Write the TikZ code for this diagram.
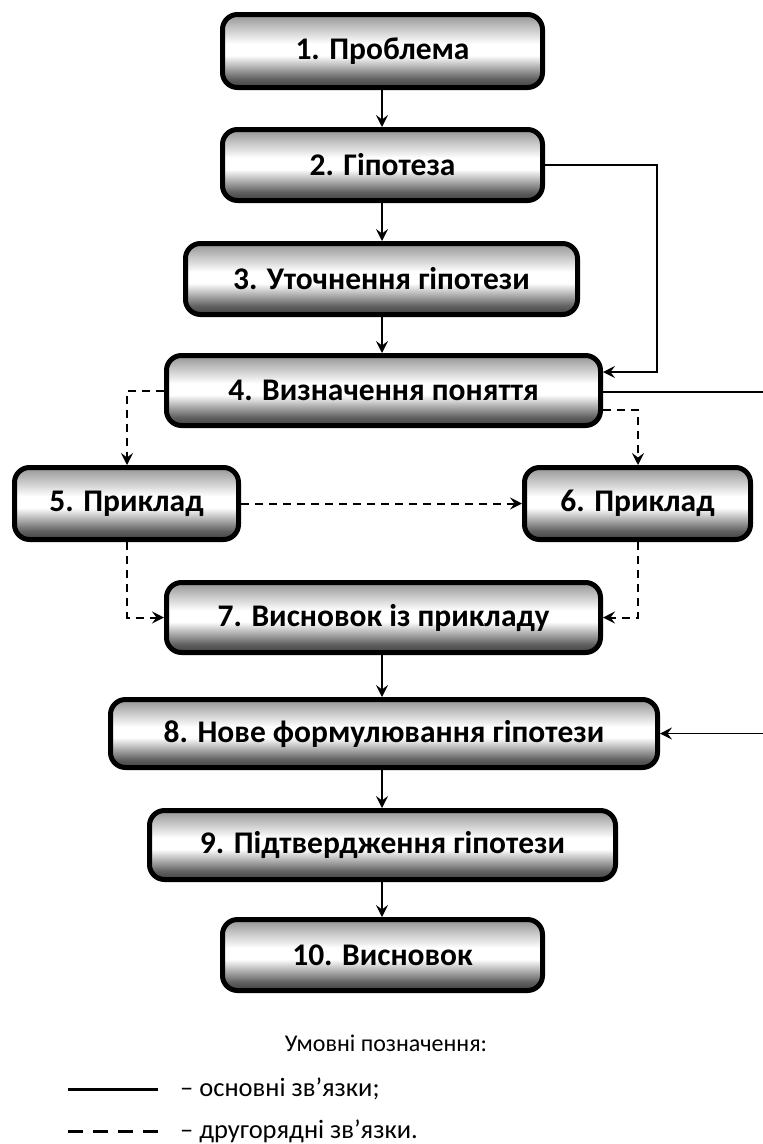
\documentclass[tikz,border=0pt]{standalone}
\usepackage{fontspec}
\setmainfont{Carlito}
\usetikzlibrary{arrows.meta}
% gray-white-gray bar shading for the step boxes (path spans 25bp..75bp)
\pgfdeclareverticalshading{stepshade}{100bp}{color(0bp)=(black!75); color(25bp)=(black!75); color(31bp)=(black!62); color(47bp)=(white); color(55bp)=(white); color(75bp)=(black!42); color(100bp)=(black!42)}
\tikzset{
  stepbox/.style={draw=black, line width=5pt, rounded corners=15pt, shading=stepshade,
    inner sep=0pt, font=\fontsize{31.5}{38}\selectfont\bfseries, text=black},
  tip/.style={-{Stealth[length=12pt,width=12pt,inset=4.5pt]}},
  main/.style={tip, line width=2.2pt},
  thin main/.style={line width=1.6pt},
  minor/.style={tip, line width=2pt, dash pattern=on 8pt off 6pt},
  legend/.style={font=\fontsize{26.5}{31}\selectfont, inner sep=0pt},
}
\begin{document}
\begin{tikzpicture}[x=1pt,y=-1pt]
\useasboundingbox (0,0) rectangle (763,1144);
% steps
\node[stepbox, minimum width=320pt, minimum height=73pt] (s1) at (382.5,51) {1. Проблема};
\node[stepbox, minimum width=320pt, minimum height=71pt] (s2) at (382.5,165) {2. Гіпотеза};
\node[stepbox, minimum width=392pt, minimum height=71pt] (s3) at (381.5,279) {3. Уточнення гіпотези};
\node[stepbox, minimum width=434pt, minimum height=70pt] (s4) at (383.5,390.5) {4. Визначення поняття};
\node[stepbox, minimum width=224pt, minimum height=72pt] (s5) at (126.5,503.5) {5. Приклад};
\node[stepbox, minimum width=226pt, minimum height=72pt] (s6) at (637.5,503.5) {6. Приклад};
\node[stepbox, minimum width=434pt, minimum height=70pt] (s7) at (383.5,617.5) {7. Висновок із прикладу};
\node[stepbox, minimum width=547pt, minimum height=68pt] (s8) at (384,733.5) {8. Нове формулювання гіпотези};
\node[stepbox, minimum width=466pt, minimum height=69pt] (s9) at (382.5,845) {9. Підтвердження гіпотези};
\node[stepbox, minimum width=320pt, minimum height=71pt] (s10) at (382.5,955) {10. Висновок};
% main sequence (straight down at x = 382)
\coordinate (ax) at (382,0);
\draw[main] (s1.south -| ax) -- (s2.north -| ax);
\draw[main] (s2.south -| ax) -- (s3.north -| ax);
\draw[main] (s3.south -| ax) -- (s4.north -| ax);
\draw[main] (s7.south -| ax) -- (s8.north -| ax);
\draw[main] (s8.south -| ax) -- (s9.north -| ax);
\draw[main] (s9.south -| ax) -- (s10.north -| ax);
% bypass from hypothesis to definition
\coordinate (b2) at (657,165);
\coordinate (b4) at (657,372);
\draw[thin main, tip] (s2.east) -- (b2) -- (b4) -- (s4.east |- b4);
% link leaving and re-entering at the right margin
\coordinate (r4) at (763,392);
\coordinate (r8) at (763,733.5);
\draw[thin main] (s4.east |- r4) -- (r4);
\draw[thin main, tip] (r8) -- (s8.east);
% secondary links
\coordinate (l4) at (127,390.5);
\coordinate (q4) at (638,410);
\coordinate (l7) at (127,617.5);
\coordinate (q7) at (638,617.5);
\draw[minor] (s4.west) -- (l4) -- (s5.north -| l4);
\draw[minor] (s4.east |- q4) -- (q4) -- (s6.north -| q4);
\draw[minor] (s5.east) -- (s6.west);
\draw[minor] (s5.south -| l7) -- (l7) -- (s7.west);
\draw[minor] (s6.south -| q7) -- (q7) -- (s7.east);
% legend
\node[legend, font=\fontsize{24}{29}\selectfont, anchor=base] (lt) at (386,1051) {Умовні позначення:};
\coordinate (la) at (68,1089);
\coordinate (lb) at (158,1089);
\coordinate (lc) at (68,1131);
\coordinate (ld) at (163,1131);
\draw[line width=3pt] (la) -- (lb);
\draw[line width=3pt, dash pattern=on 15pt off 10pt] (lc) -- (ld);
\node[legend, anchor=base west] (l1) at (180,1096) {– основні зв’язки;};
\node[legend, anchor=base west] (l2) at (180,1138) {– другорядні зв’язки.};
\end{tikzpicture}
\end{document}
